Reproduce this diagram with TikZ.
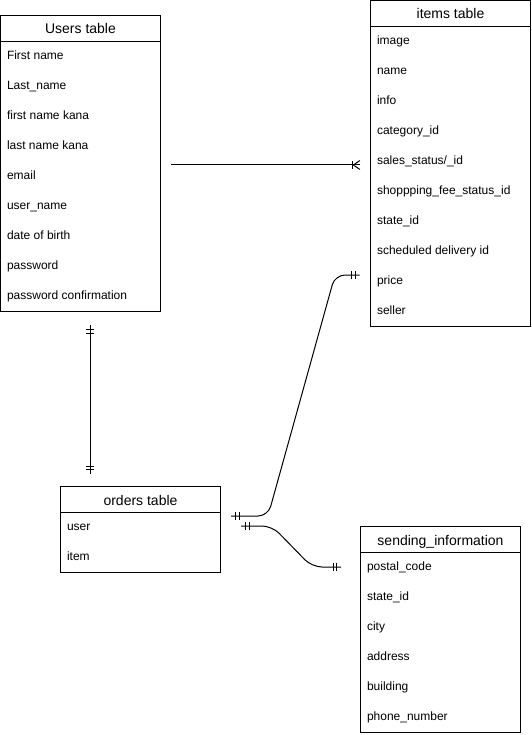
\documentclass[tikz,border=0pt]{standalone}
\usepackage{fontspec}
\setmainfont{Liberation Sans}
\usetikzlibrary{decorations.markings,calc}
\newcommand\ertable[6]{% #1 name, #2 left, #3 top, #4 rows, #5 title, #6 row texts
  \node[tbl,minimum height={26pt+#4*30pt}] (#1) at (#2,#3) {};
  \node[hdr] (#1-h) at (#2,#3) {};
  \node[ttl] (#1-t) at (#2+80,#3+18.5) {#5};
  \foreach \r [count=\i] in {#6} {
    \node[rowtxt] (#1-\i) at (#2+6,#3+11+30*\i+3) {\r};
  }
}
\begin{document}
\begin{tikzpicture}[x=1pt,y=-1pt,line width=1pt,
  tbl/.style={draw,anchor=north west,minimum width=160pt,inner sep=0pt,outer sep=0pt},
  hdr/.style={draw,anchor=north west,minimum width=160pt,minimum height=26pt,inner sep=0pt,outer sep=0pt},
  ttl/.style={anchor=base,font=\fontsize{14}{16}\selectfont,inner sep=0pt},
  rowtxt/.style={anchor=base west,font=\fontsize{12}{14}\selectfont,inner sep=0pt},
  monestart/.style={postaction={decorate,decoration={markings,
    mark=at position 4.5pt with {\draw[line width=1pt] (0,-4pt)--(0,4pt);},
    mark=at position 8pt with {\draw[line width=1pt] (0,-4pt)--(0,4pt);}}}},
  moneend/.style={postaction={decorate,decoration={markings,
    mark=at position -8pt with {\draw[line width=1pt] (0,-4pt)--(0,4pt);},
    mark=at position -4.5pt with {\draw[line width=1pt] (0,-4pt)--(0,4pt);}}}},
  crowend/.style={postaction={decorate,decoration={markings,
    mark=at position -0.1pt with {\draw[line width=1pt] (-7.7pt,-4pt)--(-7.7pt,4pt);
      \draw[line width=1pt] (0,-4.5pt)--(-6.5pt,0)--(0,4.5pt);}}}}
]
\useasboundingbox (0,0) rectangle (531,735);

\ertable{users}{0.5}{15.5}{9}{Users table}{First name,Last\_name,first name kana,last name kana,email,user\_name,date of birth,password,password confirmation}
\ertable{items}{370.5}{0.5}{10}{items table}{image,name,info,category\_id,sales\_status/\_id,shoppping\_fee\_status\_id,state\_id,scheduled delivery id,price,seller}
\ertable{orders}{60.5}{486.5}{2}{orders table}{user,item}
\ertable{sending}{360.5}{526.5}{6}{sending\_information}{postal\_code,state\_id,city,address,building,phone\_number}

% connectors
\coordinate (c1a) at (171,165);
\coordinate (c1b) at (360,165);
\draw[crowend] (c1a) -- (c1b);

\coordinate (c2a) at (90,325);
\coordinate (c2b) at (90,474);
\draw[monestart,moneend] (c2a) -- (c2b);

\coordinate (c3a) at (231,516);
\coordinate (c3b) at (359.5,275);
\draw[monestart,moneend,rounded corners=10pt] (c3a) -- (268,516) -- (335,275) -- (c3b);

\coordinate (c4a) at (241,526);
\coordinate (c4b) at (341,567);
\draw[monestart,moneend,rounded corners=10pt] (c4a) -- (272,526) -- (312,567) -- (c4b);
\end{tikzpicture}
\end{document}
